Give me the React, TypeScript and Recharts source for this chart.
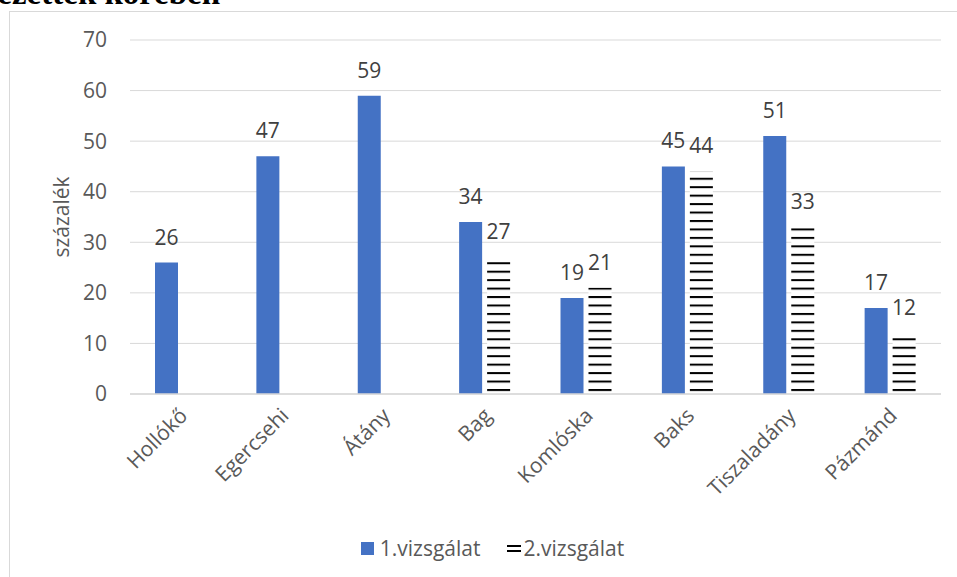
import React from "react"
import { Bar, BarChart, CartesianGrid, LabelList, Legend, XAxis, YAxis } from "recharts"

const telepulesek = ["Hollókő", "Egercsehi", "Átány", "Bag", "Komlóska", "Baks", "Tiszaladány", "Pázmánd"]
const vizsgalat1 = [26, 47, 59, 34, 19, 45, 51, 17]
const vizsgalat2 = [null, null, null, 27, 21, 44, 33, 12]
const yTicks = [0, 10, 20, 30, 40, 50, 60, 70]

const data = telepulesek.map((name, i) => ({ name, v1: vizsgalat1[i], v2: vizsgalat2[i] }))

const FONT = "'Open Sans', 'Noto Sans', sans-serif"
const TXT = "#595959"
const FS = 21

const XTick = (props: any) => {
  const { x, y, payload } = props
  return (
    <g transform={`translate(${x},${y})`}>
      <text
        x={0}
        y={0}
        transform="translate(8,21) rotate(-45)"
        textAnchor="end"
        fill={TXT}
        fontSize={FS}
        fontFamily={FONT}
      >
        {payload.value}
      </text>
    </g>
  )
}

const LegendContent = () => (
  <div
    style={{
      display: "flex",
      justifyContent: "center",
      alignItems: "center",
      height: 24,
      fontFamily: FONT,
      fontSize: FS,
      color: TXT,
      paddingLeft: 44,
    }}
  >
    <span style={{ display: "inline-block", width: 13, height: 13, background: "#4472c4", marginRight: 6 }} />
    <span style={{ marginRight: 26 }}>1.vizsgálat</span>
    <svg width={14} height={13} style={{ marginRight: 3 }}>
      <rect x={0} y={3} width={14} height={2} fill="#000" />
      <rect x={0} y={8} width={14} height={2} fill="#000" />
    </svg>
    <span>2.vizsgálat</span>
  </div>
)

export default function App() {
  return (
    <div style={{ position: "absolute", left: 0, top: 0, width: 957, height: 577, overflow: "hidden", background: "#fff" }}>
      <div
        style={{
          position: "absolute",
          right: 737,
          top: -23,
          whiteSpace: "nowrap",
          fontFamily: "'Liberation Serif', 'Times New Roman', serif",
          fontWeight: "bold",
          fontSize: 33,
          lineHeight: "33px",
          color: "#000",
        }}
      >
        megkérdezettek körében
      </div>
      <div
        style={{
          position: "absolute",
          left: 9,
          top: 11,
          width: 1000,
          height: 700,
          border: "1px solid #d9d9d9",
        }}
      />
      <div style={{ position: "absolute", left: 0, top: 0 }}>
        <BarChart
          width={957}
          height={577}
          data={data}
          margin={{ top: 40, right: 16, left: 0, bottom: 17 }}
          barSize={23}
          barGap={5}
        >
          <defs>
            <pattern id="csikos" width={10} height={8.45} patternUnits="userSpaceOnUse" y={0.3}>
              <rect x={0} y={0} width={10} height={8.45} fill="#fff" />
              <rect x={0} y={0} width={10} height={2} fill="#000" />
            </pattern>
          </defs>
          <CartesianGrid vertical={false} stroke="#d9d9d9" strokeWidth={1} />
          <XAxis
            dataKey="name"
            axisLine={{ stroke: "#d9d9d9", strokeWidth: 1.5 }}
            tickLine={false}
            tickSize={0}
            height={142}
            interval={0}
            tick={<XTick />}
          />
          <YAxis
            domain={[0, 70]}
            ticks={yTicks}
            width={130}
            axisLine={false}
            tickLine={false}
            tickSize={0}
            tickMargin={23}
            tick={{ fontSize: FS, fill: TXT, fontFamily: FONT }}
            label={{
              value: "százalék",
              angle: -90,
              position: "center",
              dx: -3,
              style: { fontSize: FS, fill: TXT, fontFamily: FONT },
            }}
          />
          <Legend verticalAlign="bottom" height={24} content={<LegendContent />} />
          <Bar dataKey="v1" name="1.vizsgálat" fill="#4472c4" isAnimationActive={false}>
            <LabelList dataKey="v1" position="top" offset={18} fill="#404040" fontSize={FS} fontFamily={FONT} />
          </Bar>
          <Bar dataKey="v2" name="2.vizsgálat" fill="url(#csikos)" isAnimationActive={false}>
            <LabelList
              dataKey="v2"
              position="top"
              offset={18}
              fill="#404040"
              fontSize={FS}
              fontFamily={FONT}
              formatter={(v: any) => (v == null ? "" : v)}
            />
          </Bar>
        </BarChart>
      </div>
    </div>
  )
}
